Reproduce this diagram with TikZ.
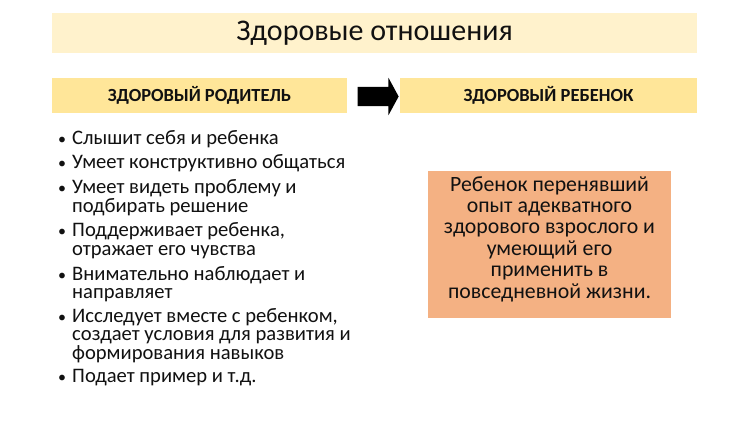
\documentclass[tikz,border=0pt]{standalone}
\usepackage{fontspec}
\setmainfont{Carlito}
\usetikzlibrary{shapes.arrows}
\definecolor{titlefill}{HTML}{FFF2CC}
\definecolor{hdrfill}{HTML}{FFE699}
\definecolor{boxfill}{HTML}{F4B183}
\definecolor{ink}{HTML}{111111}
\newcommand{\itemtext}[1]{\parbox[t]{320pt}{\raggedright #1}}
\begin{document}
\begin{tikzpicture}[x=1pt,y=-1pt,
  hdr/.style={fill=hdrfill, minimum height=35pt, inner sep=0pt, text=ink,
    font=\fontsize{18.5}{21}\selectfont\bfseries},
  item/.style={anchor=base west, inner sep=0pt, text=ink,
    font=\fontsize{20.6}{18.6}\selectfont},
  dotmark/.style={anchor=base, inner sep=0pt, text=ink, font=\fontsize{16}{18}\selectfont}]
\useasboundingbox (0,0) rectangle (750,422);
\fill[white] (0,0) rectangle (750,422);
% title
\node[fill=titlefill, minimum width=645pt, minimum height=40pt, inner sep=0pt, text=ink,
  font=\fontsize{30}{36}\selectfont] (title) at (374.5,33) {Здоровые отношения};
% headers
\node[hdr, minimum width=295pt] (left) at (199.5,95.5) {ЗДОРОВЫЙ РОДИТЕЛЬ};
\node[hdr, minimum width=297pt] (right) at (548.5,95.5) {ЗДОРОВЫЙ РЕБЕНОК};
% arrow
\node[single arrow, fill=black, inner sep=0pt, inner ysep=9.5pt, minimum height=41pt,
  single arrow head extend=9pt, single arrow tip angle=123] (arrow) at (375.5,96.5) {};
% bullets
\node[dotmark] (d1) at (62,145) {•};
\node[item] (b1) at (72,145) {\itemtext{Слышит себя и ребенка}};
\node[dotmark] (d2) at (62,169) {•};
\node[item] (b2) at (72,169) {\itemtext{Умеет конструктивно общаться}};
\node[dotmark] (d3) at (62,194) {•};
\node[item] (b3) at (72,194) {\itemtext{Умеет видеть проблему и\\подбирать решение}};
\node[dotmark] (d4) at (62,237) {•};
\node[item] (b4) at (72,237) {\itemtext{Поддерживает ребенка,\\отражает его чувства}};
\node[dotmark] (d5) at (62,280) {•};
\node[item] (b5) at (72,280) {\itemtext{Внимательно наблюдает и\\направляет}};
\node[dotmark] (d6) at (62,322) {•};
\node[item] (b6) at (72,322) {\itemtext{Исследует вместе с ребенком,\\создает условия для развития и\\формирования навыков}};
\node[dotmark] (d7) at (62,382) {•};
\node[item] (b7) at (72,382) {\itemtext{Подает пример и т.д.}};
% orange box
\node[fill=boxfill, minimum width=243pt, minimum height=146pt, inner sep=0pt] (box) at (549.5,244.5) {};
\node[align=center, inner sep=0pt, text=ink, font=\fontsize{21.8}{21.4}\selectfont]
  (boxtext) at (549.5,239) {Ребенок перенявший\\опыт адекватного\\здорового взрослого и\\умеющий его\\применить в\\повседневной жизни.};
\end{tikzpicture}
\end{document}
